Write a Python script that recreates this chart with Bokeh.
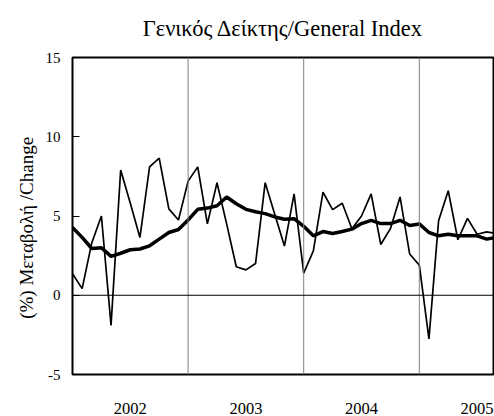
from bokeh.plotting import figure
from bokeh.models import FixedTicker, Span, Range1d, ColumnDataSource
from bokeh.embed import file_html
from bokeh.resources import INLINE

# Monthly index (0 = first month of 2002)
month_index = list(range(45))

# Thin line: monthly % change
monthly_change = [1.36, 0.42, 3.3, 5.0, -1.9, 7.9, 5.8, 3.65, 8.1, 8.65, 5.45, 4.75,
                  7.2, 8.1, 4.5, 7.1, 4.5, 1.8, 1.6, 2.0, 7.1, 5.1, 3.1, 6.4,
                  1.4, 2.8, 6.5, 5.4, 5.8, 4.2, 5.0, 6.4, 3.2, 4.2, 6.2, 2.6,
                  1.9, -2.75, 4.7, 6.6, 3.5, 4.85, 3.85, 4.0, 3.9]

# Thick line: moving average
moving_avg = [4.27, 3.65, 2.95, 3.0, 2.45, 2.65, 2.87, 2.92, 3.12, 3.54, 3.96, 4.15,
              4.75, 5.42, 5.5, 5.65, 6.2, 5.77, 5.42, 5.27, 5.15, 4.94, 4.8, 4.83,
              4.35, 3.75, 4.02, 3.9, 4.02, 4.17, 4.52, 4.73, 4.52, 4.52, 4.73, 4.4,
              4.5, 3.96, 3.75, 3.85, 3.75, 3.75, 3.75, 3.54, 3.65]

year_labels = ["2002", "2003", "2004", "2005"]
year_centers = [6, 18, 30, 42]
year_bounds = [12, 24, 36]
y_ticks = [-5, 0, 5, 10, 15]
y_tick_labels = ["-5", "0", "5", "10", "15"]

FONT = "Liberation Serif"

src = ColumnDataSource(dict(x=month_index, m=monthly_change, a=moving_avg))

p = figure(width=494, height=416, output_backend="svg", toolbar_location=None,
           x_range=Range1d(0, 43.7), y_range=Range1d(-5, 15),
           min_border_left=72, min_border_right=1, min_border_top=57, min_border_bottom=41,
           title="Γενικός Δείκτης/General Index")

p.title.text_font = FONT
p.title.text_font_size = "22.5px"
p.title.text_font_style = "normal"
p.title.align = "center"
p.title.vertical_align = "top"
p.title.text_color = "black"
p.title.standoff = 29

p.outline_line_color = "black"
p.outline_line_width = 2
p.xgrid.grid_line_color = None
p.ygrid.grid_line_color = None

for b in year_bounds:
    p.add_layout(Span(location=b, dimension="height", line_color="#808080", line_width=1))
p.add_layout(Span(location=0, dimension="width", line_color="black", line_width=1))

p.line("x", "m", source=src, line_color="black", line_width=1.7)
p.line("x", "a", source=src, line_color="black", line_width=3.5)

# Y axis
p.yaxis.ticker = FixedTicker(ticks=y_ticks)
p.yaxis.major_label_overrides = {t: l for t, l in zip(y_ticks, y_tick_labels)}
p.yaxis.major_tick_in = 7
p.yaxis.major_tick_out = 0
p.yaxis.minor_tick_line_color = None
p.yaxis.axis_line_color = None
p.yaxis.major_tick_line_color = "black"
p.yaxis.major_label_text_font = FONT
p.yaxis.major_label_text_font_size = "15px"
p.yaxis.major_label_text_color = "black"
p.yaxis.major_label_standoff = 12
# trailing no-break spaces push the rotated text a little below the frame centre
p.yaxis.axis_label = "(%) Μεταβολή /Change" + "\u00a0" * 5
p.yaxis.axis_label_text_font = FONT
p.yaxis.axis_label_text_font_size = "19px"
p.yaxis.axis_label_text_font_style = "normal"
p.yaxis.axis_label_text_color = "black"
p.yaxis.axis_label_standoff = 6

# X axis
p.xaxis.ticker = FixedTicker(ticks=year_centers)
p.xaxis.major_label_overrides = {c: l for c, l in zip(year_centers, year_labels)}
p.xaxis.major_tick_line_color = None
p.xaxis.minor_tick_line_color = None
p.xaxis.axis_line_color = None
p.xaxis.major_label_text_font = FONT
p.xaxis.major_label_text_font_size = "16.5px"
p.xaxis.major_label_text_color = "black"
p.xaxis.major_label_standoff = 22

open("out.html", "w").write(file_html(p, INLINE))
